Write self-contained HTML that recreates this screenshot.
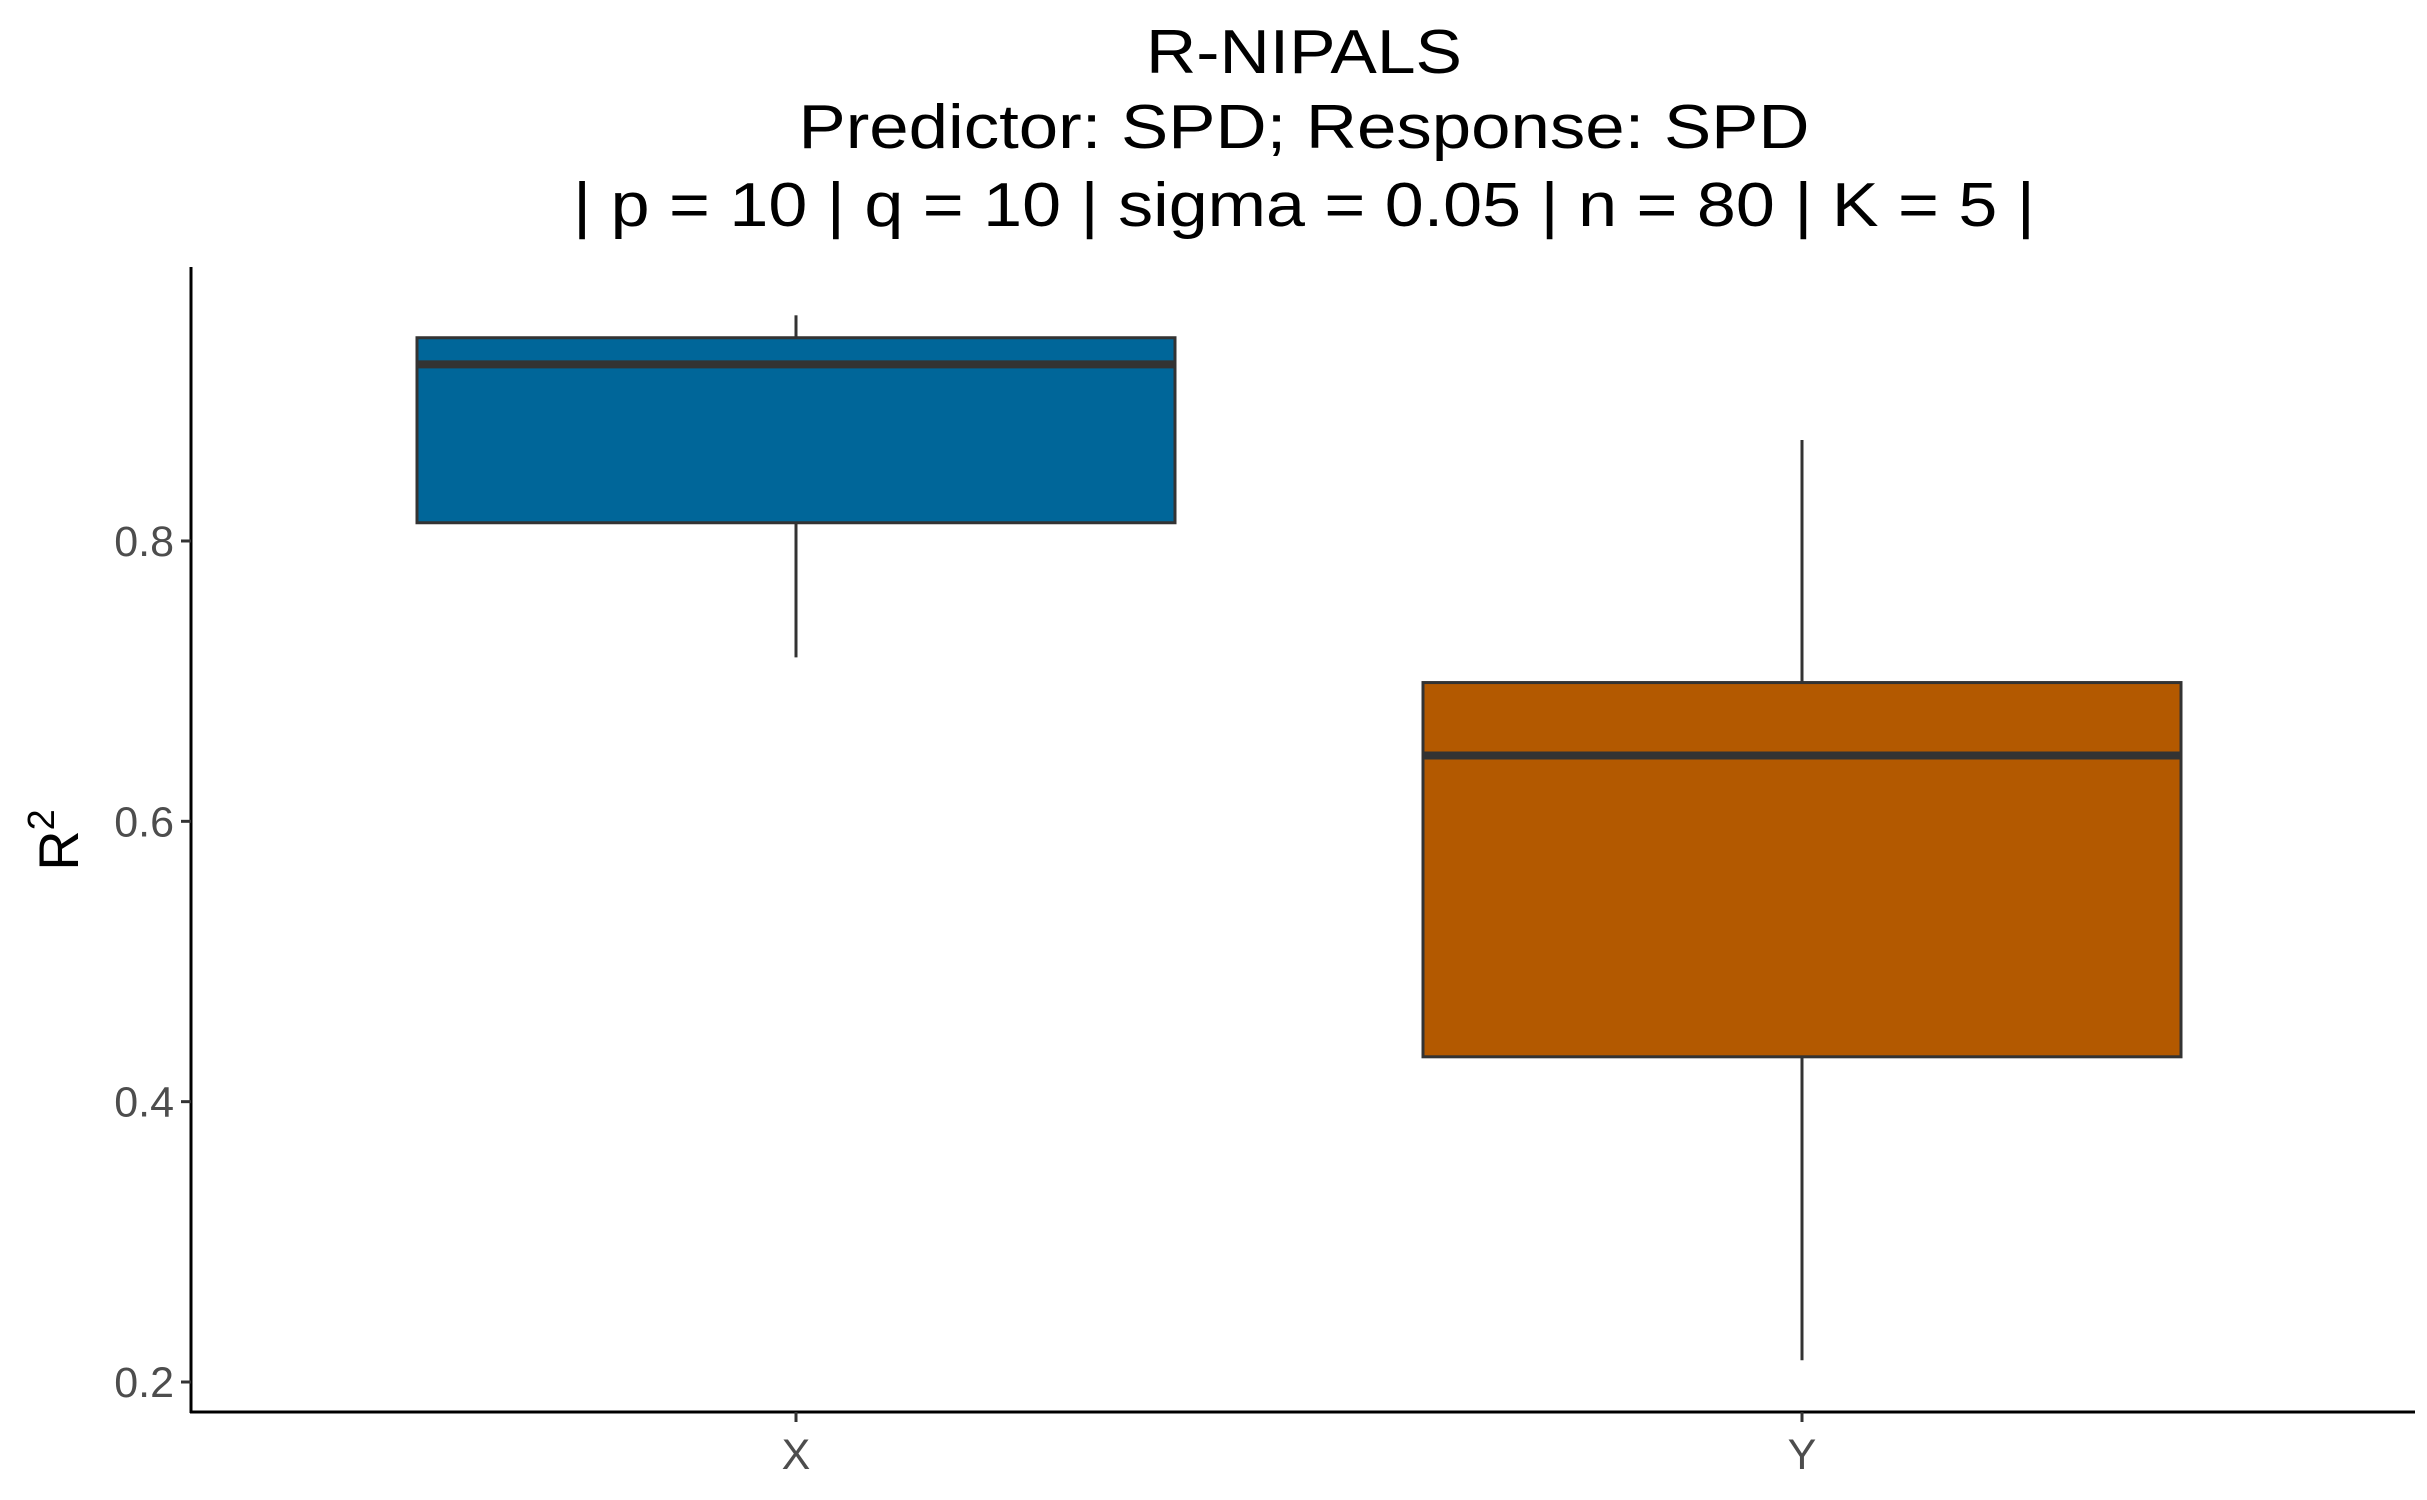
<!DOCTYPE html>
<html><head><meta charset="utf-8"><style>
html,body{margin:0;padding:0;background:#fff}
svg{display:block;font-family:"Liberation Sans",sans-serif}
</style></head><body>
<svg id="chart" width="2427" height="1500" viewBox="0 0 2427 1500" xmlns="http://www.w3.org/2000/svg">
<rect width="2427" height="1500" fill="#fff"/>
<g text-anchor="middle" font-size="62" fill="#000">
<text x="1304" y="73" textLength="316" lengthAdjust="spacingAndGlyphs">R-NIPALS</text>
<text x="1304" y="148" textLength="1011" lengthAdjust="spacingAndGlyphs">Predictor: SPD; Response: SPD</text>
<text x="1304" y="226" textLength="1462" lengthAdjust="spacingAndGlyphs">| p = 10 | q = 10 | sigma = 0.05 | n = 80 | K = 5 |</text>
</g>
<g id="plot"></g>
<text transform="translate(78,840) rotate(-90)" text-anchor="middle" font-size="56" fill="#000">R<tspan dy="-24" font-size="38">2</tspan></text>
</svg>
<script>
const categories = ["X", "Y"];
const lowerWhisker = [0.717, 0.2155];
const q1 = [0.813, 0.432];
const median = [0.926, 0.647];
const q3 = [0.945, 0.699];
const upperWhisker = [0.961, 0.872];
const yTicks = [0.2, 0.4, 0.6, 0.8];
const yTickLabels = ["0.2", "0.4", "0.6", "0.8"];
const fills = ["#006699", "#B35900"];

const NS = "http://www.w3.org/2000/svg";
const plotG = document.getElementById("plot");
const axLeft = 191, axRight = 2415, axTop = 267, axBottom = 1412;
function yScale(v){ return 1382 - (v - 0.2) * 1401.7; }
function xScale(i){ return 796 + i * 1006; }
const halfW = 379;
function mk(tag, attrs){ const e = document.createElementNS(NS, tag); for (const k in attrs) e.setAttribute(k, attrs[k]); plotG.appendChild(e); return e; }

let ax = mk("line", {x1:axLeft, y1:axTop, x2:axLeft, y2:axBottom+1, stroke:"#000", "stroke-width":3});


ax = mk("line", {x1:axLeft-1, y1:axBottom, x2:axRight, y2:axBottom, stroke:"#000", "stroke-width":3});



yTicks.forEach((v, i) => {
  const y = yScale(v);
  const t = mk("line", {x1:axLeft-10, y1:y, x2:axLeft, y2:y, stroke:"#333", "stroke-width":3});
  
  
  const l = mk("text", {x:axLeft-17, y:y+15, "text-anchor":"end", "font-size":43, fill:"#4d4d4d"});
  l.textContent = yTickLabels[i];
  
  
});

categories.forEach((c, i) => {
  const cx = xScale(i);
  const t = mk("line", {x1:cx, y1:axBottom, x2:cx, y2:axBottom+10, stroke:"#333", "stroke-width":3});
  
  
  const l = mk("text", {x:cx, y:axBottom+57, "text-anchor":"middle", "font-size":43, fill:"#4d4d4d"});
  l.textContent = c;
  
  
  const w1 = mk("line", {x1:cx, y1:yScale(upperWhisker[i]), x2:cx, y2:yScale(q3[i]), stroke:"#333", "stroke-width":3});
  
  
  const w2 = mk("line", {x1:cx, y1:yScale(q1[i]), x2:cx, y2:yScale(lowerWhisker[i]), stroke:"#333", "stroke-width":3});
  
  
  const b = mk("rect", {x:cx-halfW, y:yScale(q3[i]), width:2*halfW, height:yScale(q1[i])-yScale(q3[i]), fill:fills[i], stroke:"#333", "stroke-width":3});
  
  
  const m = mk("line", {x1:cx-halfW, y1:yScale(median[i]), x2:cx+halfW, y2:yScale(median[i]), stroke:"#333", "stroke-width":8});
  
  
});
</script>
</body></html>
